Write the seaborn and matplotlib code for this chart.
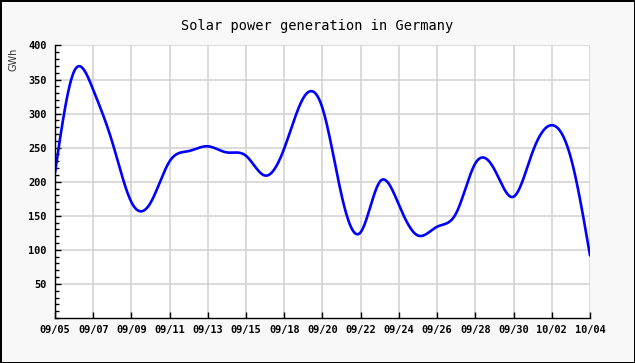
import matplotlib
matplotlib.use("Agg")
import matplotlib.pyplot as plt
import numpy as np
import pandas as pd
import seaborn as sns
from matplotlib.ticker import MultipleLocator

# daily readings (one day, 09/17, is missing in the source)
dates = ['09/05', '09/06', '09/07', '09/08', '09/09', '09/10', '09/11', '09/12',
         '09/13', '09/14', '09/15', '09/16', '09/18', '09/19', '09/20', '09/21',
         '09/22', '09/23', '09/24', '09/25', '09/26', '09/27', '09/28', '09/29',
         '09/30', '10/01', '10/02', '10/03', '10/04']
gwh = [213, 362, 335, 258, 170, 169, 230, 245, 252, 243, 238, 209, 249, 323, 308,
       180, 126, 200, 166, 121, 134, 154, 227, 218, 178, 244, 283, 235, 92]

title = "Solar power generation in Germany"
y_label = "GWh"


def smooth(x, y, xs):
    # natural cubic spline, used only to draw the curve smoothly
    n = len(x)
    h = np.diff(x)
    A = np.zeros((n, n))
    r = np.zeros(n)
    A[0, 0] = A[-1, -1] = 1
    for i in range(1, n - 1):
        A[i, i - 1] = h[i - 1]
        A[i, i] = 2 * (h[i - 1] + h[i])
        A[i, i + 1] = h[i]
        r[i] = 3 * ((y[i + 1] - y[i]) / h[i] - (y[i] - y[i - 1]) / h[i - 1])
    c = np.linalg.solve(A, r)
    b = (y[1:] - y[:-1]) / h - h * (2 * c[:-1] + c[1:]) / 3
    d = (c[1:] - c[:-1]) / (3 * h)
    idx = np.clip(np.searchsorted(x, xs) - 1, 0, n - 2)
    dx = xs - x[idx]
    return y[idx] + b[idx] * dx + c[idx] * dx ** 2 + d[idx] * dx ** 3


sns.set_style("white")
plt.rcParams['font.family'] = ['DejaVu Sans Mono', 'DejaVu Sans']

x = np.arange(len(dates), dtype=float)
y = np.array(gwh, dtype=float)
xs = np.linspace(0, len(dates) - 1, 800)
curve = pd.DataFrame({'pos': xs, 'gwh': smooth(x, y, xs)})

fig = plt.figure(figsize=(6.35, 3.63), dpi=100, facecolor='#f8f8f8',
                 edgecolor='black', linewidth=2)
ax = fig.add_axes([0.0866, 0.124, 0.8425, 0.7507])
ax.set_facecolor('white')

sns.lineplot(data=curve, x='pos', y='gwh', ax=ax, color='#0000ff', linewidth=1.9)

ax.set_xlim(0, len(dates) - 1)
ax.set_ylim(0, 400)
ax.set_xticks(x[::2])
ax.set_xticklabels(dates[::2])
ax.set_yticks(range(50, 401, 50))
ax.yaxis.set_minor_locator(MultipleLocator(10))
ax.grid(True, which='major', color='#d4d4d4', linewidth=1.2)
ax.set_axisbelow(True)

for side in ['top', 'right']:
    ax.spines[side].set_visible(False)
for side in ['left', 'bottom']:
    ax.spines[side].set_color('black')
    ax.spines[side].set_linewidth(1)

ax.tick_params(axis='both', which='both', left=True, bottom=True)
ax.tick_params(axis='both', which='major', direction='in', length=4, width=1,
               color='black', labelsize=7.4, labelcolor='black')
ax.tick_params(axis='y', which='minor', direction='in', length=3, width=1, color='black')
ax.tick_params(axis='y', which='major', pad=6)
ax.tick_params(axis='x', which='major', pad=5)
for lab in ax.get_xticklabels() + ax.get_yticklabels():
    lab.set_fontweight('bold')

ax.set_xlabel('')
ax.set_ylabel('')
fig.text(0.5, 0.928, title, ha='center', va='center', fontsize=9.8, color='black')
fig.text(0.021, 0.87, y_label, rotation=90, ha='center', va='top', fontsize=7,
         family='DejaVu Sans', color='#333333')

fig.savefig('out.png', dpi=100, facecolor=fig.get_facecolor(), edgecolor='black')
